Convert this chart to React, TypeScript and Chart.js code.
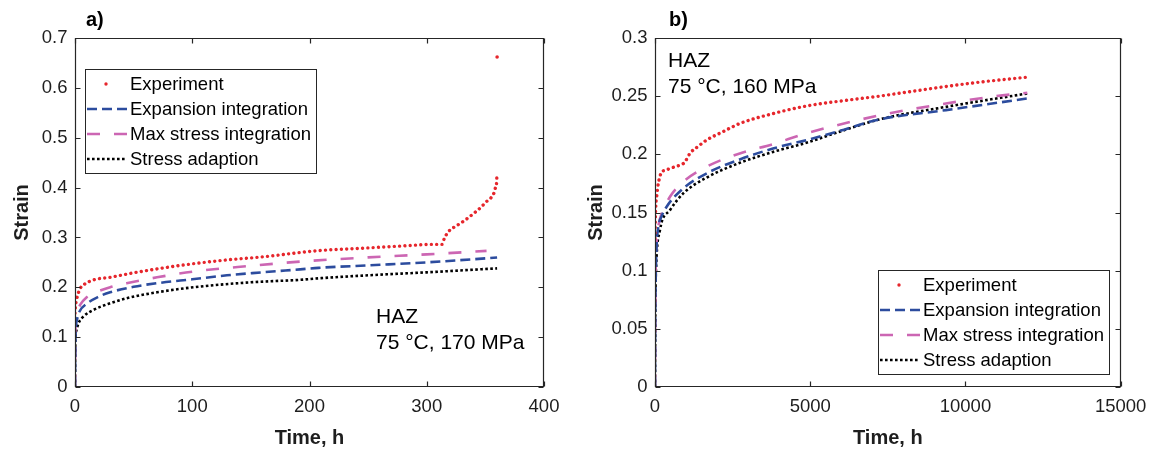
import React, { useEffect, useRef } from "react";
import { Chart, registerables } from "chart.js";

Chart.register(...registerables);

const FONT = '"Liberation Sans", Arial, Helvetica, sans-serif';
const TEXT = "#1e1e1e";
const AXIS = "#262626";
const RED = "#e6262c";
const BLUE = "#2c4c9e";
const PINK = "#cc66b3";
const BLACK = "#000000";

// ---------- Panel a) 75 °C, 170 MPa ----------
const aExpTime = [0, 0.5, 1.1, 2, 4.5, 8, 16, 30, 50, 73, 100, 130, 160, 208, 250, 280, 305, 313, 315, 318.5, 323, 328.5, 334, 340, 346, 351, 355, 357.5, 359, 359.8, 360];
const aExpStrain = [0.148, 0.165, 0.172, 0.182, 0.198, 0.206, 0.215, 0.22, 0.229, 0.238, 0.247, 0.255, 0.261, 0.2736, 0.279, 0.283, 0.286, 0.286, 0.298, 0.3116, 0.32, 0.328, 0.337, 0.348, 0.36, 0.372, 0.38, 0.39, 0.402, 0.424, 0.662];
const aExpanTime = [0, 0.1, 0.4, 1.7, 4, 10, 20, 30, 50, 72.7, 100, 129.6, 160, 192, 207.7, 250, 300, 360];
const aExpanStrain = [0, 0.04, 0.1, 0.135, 0.152, 0.167, 0.181, 0.19, 0.201, 0.209, 0.216, 0.224, 0.23, 0.236, 0.239, 0.244, 0.25, 0.2596];
const aMaxTime = [0, 0.1, 0.3, 1, 2, 4.5, 10, 16, 30, 44, 70, 101, 150, 192, 250, 300, 351];
const aMaxStrain = [0, 0.05, 0.11, 0.135, 0.15, 0.165, 0.18, 0.188, 0.2, 0.208, 0.22, 0.2315, 0.243, 0.2515, 0.26, 0.266, 0.273];
const aAdaptTime = [0, 0.1, 0.3, 1, 3, 8, 16, 30, 44, 70, 101, 150, 192, 207.7, 250, 300, 360];
const aAdaptStrain = [0, 0.05, 0.095, 0.112, 0.128, 0.143, 0.155, 0.168, 0.178, 0.19, 0.2, 0.21, 0.215, 0.218, 0.224, 0.23, 0.238];
const aXTicks = [0, 100, 200, 300, 400];
const aYTicks = [0, 0.1, 0.2, 0.3, 0.4, 0.5, 0.6, 0.7];
const aNote = ["HAZ", "75 °C, 170 MPa"];

// ---------- Panel b) 75 °C, 160 MPa ----------
const bExpTime = [0, 15, 30, 53, 80, 107, 150, 214, 300, 500, 803, 910, 1000, 1124, 1400, 1660, 2195, 2730, 3800, 4873, 6479, 7228, 7870, 9155, 10440, 12046];
const bExpStrain = [0.128, 0.148, 0.158, 0.1635, 0.17, 0.175, 0.18, 0.185, 0.186, 0.188, 0.1907, 0.192, 0.195, 0.2008, 0.207, 0.2122, 0.2195, 0.2265, 0.235, 0.2415, 0.2475, 0.25, 0.2525, 0.2575, 0.262, 0.2665];
const bExpanTime = [0, 5, 20, 50, 107, 200, 375, 910, 1660, 2730, 3800, 4873, 5837, 7228, 9370, 11992];
const bExpanStrain = [0, 0.05, 0.089, 0.12, 0.1377, 0.146, 0.155, 0.1707, 0.1836, 0.1956, 0.205, 0.2122, 0.2193, 0.23, 0.238, 0.248];
const bMaxTime = [0, 5, 20, 53, 120, 214, 482, 910, 1660, 2730, 3800, 4873, 6479, 7603, 9370, 10977, 11992];
const bMaxStrain = [0, 0.05, 0.098, 0.126, 0.14, 0.149, 0.1635, 0.1764, 0.1893, 0.2008, 0.2088, 0.218, 0.229, 0.2355, 0.2437, 0.25, 0.2529];
const bAdaptTime = [0, 5, 15, 32, 160, 482, 910, 1660, 2730, 3800, 4873, 5837, 7228, 9370, 11992];
const bAdaptStrain = [0, 0.04, 0.08, 0.1005, 0.135, 0.152, 0.1664, 0.18, 0.1927, 0.2021, 0.2099, 0.2185, 0.23, 0.2408, 0.2523];
const bXTicks = [0, 5000, 10000, 15000];
const bYTicks = [0, 0.05, 0.1, 0.15, 0.2, 0.25, 0.3];
const bNote = ["HAZ", "75 °C, 160 MPa"];

const LEGEND_LABELS = ["Experiment", "Expansion integration", "Max stress integration", "Stress adaption"];
const X_TITLE = "Time, h";
const Y_TITLE = "Strain";

const STYLES = [
  { color: RED, width: 3.4, dash: [0.001, 5.3], cap: "round" },
  { color: BLUE, width: 2.6, dash: [10, 5], cap: "butt" },
  { color: PINK, width: 2.6, dash: [13, 14], cap: "butt" },
  { color: BLACK, width: 2.6, dash: [2.6, 2.4], cap: "butt" },
];

type Series = { t: number[]; s: number[] };
interface PanelCfg {
  width: number;
  left: number;
  xMax: number;
  yMax: number;
  xTicks: number[];
  yTicks: number[];
  yAxisWidth: number;
  padRight: number;
  yTitlePad: number;
  series: Series[];
  isolatedLast: boolean;
  legendX: number;
  legendY: number;
  note: string[];
  noteX: number;
  noteY: number;
  label: string;
  labelX: number;
}

const panelA: PanelCfg = {
  width: 570,
  left: 0,
  xMax: 400,
  yMax: 0.7,
  xTicks: aXTicks,
  yTicks: aYTicks,
  yAxisWidth: 75,
  padRight: 26,
  yTitlePad: 10,
  series: [
    { t: aExpTime, s: aExpStrain },
    { t: aExpanTime, s: aExpanStrain },
    { t: aMaxTime, s: aMaxStrain },
    { t: aAdaptTime, s: aAdaptStrain },
  ],
  isolatedLast: true,
  legendX: 85,
  legendY: 69,
  note: aNote,
  noteX: 376,
  noteY: 317,
  label: "a)",
  labelX: 86,
};

const panelB: PanelCfg = {
  width: 585,
  left: 570,
  xMax: 15000,
  yMax: 0.3,
  xTicks: bXTicks,
  yTicks: bYTicks,
  yAxisWidth: 85,
  padRight: 33,
  yTitlePad: 14,
  series: [
    { t: bExpTime, s: bExpStrain },
    { t: bExpanTime, s: bExpanStrain },
    { t: bMaxTime, s: bMaxStrain },
    { t: bAdaptTime, s: bAdaptStrain },
  ],
  isolatedLast: false,
  legendX: 308,
  legendY: 270,
  note: bNote,
  noteX: 98,
  noteY: 61,
  label: "b)",
  labelX: 99,
};

const pts = (t: number[], s: number[]) => t.map((x, i) => ({ x, y: s[i] }));

function decorPlugin(c: PanelCfg) {
  return {
    id: "decor",
    afterDatasetsDraw(chart: any) {
      const { ctx, chartArea: a, scales } = chart;
      const xs = scales.x;
      const ys = scales.y;
      ctx.save();
      // frame
      const L = Math.round(a.left) + 0.5;
      const R = Math.round(a.right) - 0.5;
      const T = Math.round(a.top) + 0.5;
      const B = Math.round(a.bottom) - 0.5;
      ctx.strokeStyle = AXIS;
      ctx.lineWidth = 1.2;
      ctx.setLineDash([]);
      ctx.beginPath();
      ctx.rect(L, T, R - L, B - T);
      ctx.stroke();
      // inward ticks
      const TL = 5;
      ctx.beginPath();
      c.xTicks.forEach((v) => {
        const px = Math.round(xs.getPixelForValue(v)) + 0.5;
        ctx.moveTo(px, B);
        ctx.lineTo(px, B - TL);
        ctx.moveTo(px, T);
        ctx.lineTo(px, T + TL);
      });
      c.yTicks.forEach((v) => {
        const py = Math.round(ys.getPixelForValue(v)) + 0.5;
        ctx.moveTo(L, py);
        ctx.lineTo(L + TL, py);
        ctx.moveTo(R, py);
        ctx.lineTo(R - TL, py);
      });
      ctx.stroke();

      // legend
      const lx = c.legendX + 0.5;
      const ly = c.legendY + 0.5;
      const lw = 231;
      const lh = 104;
      ctx.fillStyle = "#ffffff";
      ctx.fillRect(lx, ly, lw, lh);
      ctx.strokeStyle = AXIS;
      ctx.lineWidth = 1;
      ctx.strokeRect(lx, ly, lw, lh);
      ctx.font = `18.5px ${FONT}`;
      ctx.textBaseline = "middle";
      ctx.textAlign = "left";
      LEGEND_LABELS.forEach((lab, i) => {
        const st = STYLES[i];
        const ry = c.legendY + 15 + 25 * i;
        if (i === 0) {
          ctx.fillStyle = st.color;
          ctx.beginPath();
          ctx.arc(c.legendX + 21, ry, 1.7, 0, Math.PI * 2);
          ctx.fill();
        } else {
          ctx.strokeStyle = st.color;
          ctx.lineWidth = st.width;
          ctx.lineCap = st.cap as CanvasLineCap;
          ctx.setLineDash(st.dash);
          ctx.beginPath();
          ctx.moveTo(c.legendX + 2, ry);
          ctx.lineTo(c.legendX + 42, ry);
          ctx.stroke();
          ctx.setLineDash([]);
        }
        ctx.fillStyle = "#000";
        ctx.fillText(lab, c.legendX + 45, ry + 1);
      });

      // note
      ctx.font = `21px ${FONT}`;
      ctx.fillStyle = "#000";
      c.note.forEach((line, i) => {
        ctx.fillText(line, c.noteX, c.noteY + 26 * i);
      });

      // panel label
      ctx.font = `bold 20px ${FONT}`;
      ctx.fillText(c.label, c.labelX, 20);
      ctx.restore();
    },
  };
}

function buildConfig(c: PanelCfg): any {
  const datasets = c.series.map((ser, k) => {
    const st = STYLES[k];
    const n = ser.t.length;
    const iso = k === 0 && c.isolatedLast;
    return {
      label: LEGEND_LABELS[k],
      data: pts(ser.t, ser.s),
      borderColor: st.color,
      backgroundColor: st.color,
      borderWidth: st.width,
      borderDash: st.dash,
      borderCapStyle: st.cap,
      cubicInterpolationMode: "monotone",
      fill: false,
      pointRadius: (ctx: any) => (iso && ctx.dataIndex === n - 1 ? 1.8 : 0),
      pointBorderWidth: 0,
      pointBackgroundColor: st.color,
      segment: iso
        ? { borderColor: (ctx: any) => (ctx.p1DataIndex === n - 1 ? "rgba(0,0,0,0)" : undefined) }
        : {},
    };
  });

  return {
    type: "line",
    data: { datasets },
    options: {
      animation: false,
      responsive: false,
      devicePixelRatio: 1,
      parsing: true,
      layout: { padding: { left: 0, top: 38, right: c.padRight, bottom: 0 } },
      plugins: {
        legend: { display: false },
        tooltip: { enabled: false },
        title: { display: false },
      },
      events: [],
      scales: {
        x: {
          type: "linear",
          min: 0,
          max: c.xMax,
          afterBuildTicks: (s: any) => {
            s.ticks = c.xTicks.map((v) => ({ value: v }));
          },
          afterFit: (s: any) => {
            s.height = 65;
          },
          grid: { display: false, drawTicks: false },
          border: { display: false },
          ticks: {
            font: { family: FONT, size: 18.5 },
            color: TEXT,
            padding: 8.6,
            maxRotation: 0,
            autoSkip: false,
            callback: (v: any) => String(v),
          },
          title: {
            display: true,
            text: X_TITLE,
            font: { family: FONT, size: 20, weight: "bold" },
            color: TEXT,
            padding: { top: 0, bottom: 2 },
          },
        },
        y: {
          type: "linear",
          min: 0,
          max: c.yMax,
          afterBuildTicks: (s: any) => {
            s.ticks = c.yTicks.map((v) => ({ value: v }));
          },
          afterFit: (s: any) => {
            s.width = c.yAxisWidth;
          },
          grid: { display: false, drawTicks: false },
          border: { display: false },
          ticks: {
            font: { family: FONT, size: 18.5 },
            color: TEXT,
            padding: 7.5,
            autoSkip: false,
            callback: (v: any) => String(v),
          },
          title: {
            display: true,
            text: Y_TITLE,
            font: { family: FONT, size: 20, weight: "bold" },
            color: TEXT,
            padding: { top: c.yTitlePad, bottom: 0 },
          },
        },
      },
    },
    plugins: [decorPlugin(c)],
  };
}

function ChartPanel({ cfg }: { cfg: PanelCfg }) {
  const ref = useRef<HTMLCanvasElement>(null);
  useEffect(() => {
    if (!ref.current) return;
    const chart = new Chart(ref.current, buildConfig(cfg));
    return () => chart.destroy();
  }, [cfg]);
  return (
    <canvas
      ref={ref}
      width={cfg.width}
      height={452}
      style={{ position: "absolute", left: cfg.left, top: 0, width: cfg.width, height: 452 }}
    />
  );
}

export default function App() {
  return (
    <div
      style={{
        position: "absolute",
        left: 0,
        top: 0,
        width: 1155,
        height: 452,
        background: "#ffffff",
        overflow: "hidden",
      }}
    >
      <ChartPanel cfg={panelA} />
      <ChartPanel cfg={panelB} />
    </div>
  );
}
